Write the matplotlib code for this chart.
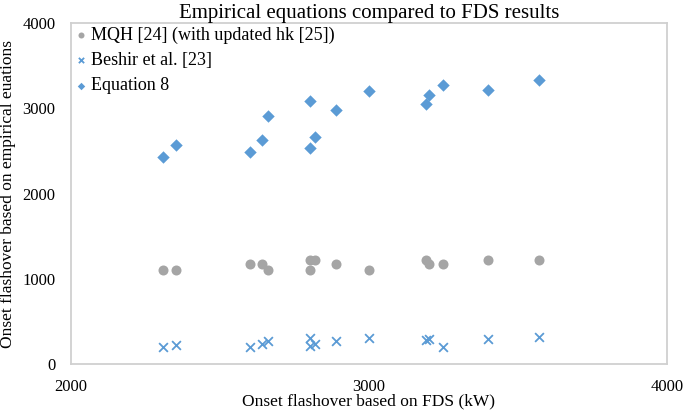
import numpy as np
import matplotlib
matplotlib.use("Agg")
import matplotlib.pyplot as plt

plt.rcParams["font.family"] = ["Liberation Serif", "DejaVu Serif"]

# onset flashover from FDS (kW)
fds = [2311, 2355, 2600, 2642, 2662, 2801, 2801, 2818, 2891, 3000, 3190, 3201, 3250, 3400, 3571]

mqh = [1106, 1106, 1169, 1169, 1106, 1220, 1106, 1220, 1169, 1106, 1225, 1169, 1169, 1220, 1220]
beshir = [203, 223, 203, 231, 266, 301, 211, 235, 270, 309, 282, 297, 203, 297, 313]
eq8 = [2432, 2565, 2483, 2624, 2913, 3089, 2530, 2667, 2975, 3202, 3050, 3159, 3273, 3214, 3335]

labels = ["MQH [24] (with updated hk [25])", "Beshir et al. [23]", "Equation 8"]

fig = plt.figure(figsize=(6.85, 4.13), dpi=100)
ax = fig.add_axes([0.103, 0.1186, 0.871, 0.8256])

ax.scatter(fds, mqh, s=52, marker="o", color="#A5A5A5", linewidths=0, label=labels[0], zorder=3)
ax.scatter(fds, beshir, s=40, marker="x", color="#5B9BD5", linewidths=1.3, label=labels[1], zorder=3)
ax.scatter(fds, eq8, s=40, marker="D", color="#5B9BD5", linewidths=0, label=labels[2], zorder=3)

ax.set_xlim(2000, 4000)
ax.set_ylim(0, 4000)
ax.set_xticks([2000, 3000, 4000])
ax.set_yticks([0, 1000, 2000, 3000, 4000])
ax.tick_params(length=0, labelsize=12)
ax.tick_params(axis="x", pad=10.5)
ax.tick_params(axis="y", pad=11)
for s in ax.spines.values():
    s.set_color("#D0D0D0")
    s.set_linewidth(1.3)

ax.set_title("Empirical equations compared to FDS results", fontsize=15, pad=2)
ax.set_xlabel("Onset flashover based on FDS (kW)", fontsize=12.5, labelpad=-1)
ax.set_ylabel("Onset flashover based on empirical euations", fontsize=12.5)
ax.yaxis.set_label_coords(-0.091, 0.5)

ax.legend(loc="upper left", bbox_to_anchor=(-0.006, 1.005), frameon=False, fontsize=13,
          markerscale=0.6, handletextpad=0.05, handlelength=1.0, labelspacing=0.45,
          borderaxespad=0.0, borderpad=0.3)

fig.savefig("out.png", dpi=100)
